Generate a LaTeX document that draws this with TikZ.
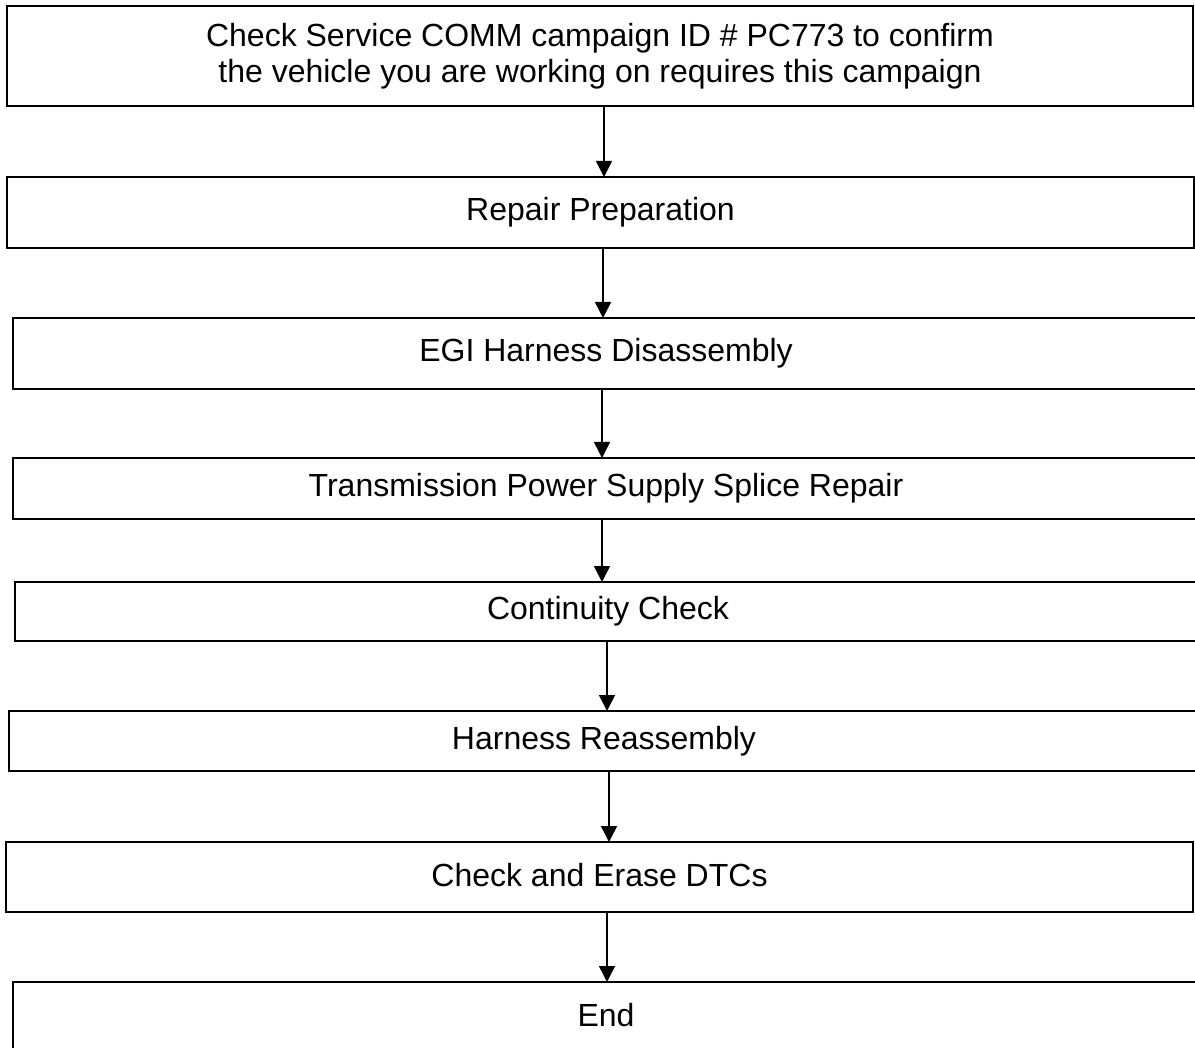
\documentclass[tikz,border=0pt]{standalone}
\usepackage{fontspec}
\setmainfont{Liberation Sans}
\usetikzlibrary{arrows.meta}
\begin{document}
\begin{tikzpicture}[x=1pt,y=-1pt,
  box/.style={draw=black, line width=1.6pt, inner sep=0pt, outer sep=0pt, align=center,
    font=\fontsize{32}{36}\selectfont},
  arr/.style={line width=1.5pt, -{Triangle[length=16pt,width=16pt]}}]
\useasboundingbox (0,0) rectangle (1195,1048);
\clip (0,0) rectangle (1195,1048);
\node[box, minimum width=1186pt, minimum height=100pt] (b1) at (600,56)
  {Check Service COMM campaign ID \# PC773 to confirm\\the vehicle you are working on requires this campaign};
\node[box, minimum width=1187pt, minimum height=71pt] (b2) at (600.5,212.5) {Repair Preparation};
\node[box, minimum width=1186pt, minimum height=71pt] (b3) at (606,353.5) {\raisebox{1pt}{EGI Harness Disassembly}};
\node[box, minimum width=1186pt, minimum height=61pt] (b4) at (606,488.5) {Transmission Power Supply Splice Repair};
\node[box, minimum width=1186pt, minimum height=59pt] (b5) at (608,611.5) {Continuity Check};
\node[box, minimum width=1190pt, minimum height=60pt] (b6) at (604,741) {Harness Reassembly};
\node[box, minimum width=1187pt, minimum height=70pt] (b7) at (599.5,877) {\raisebox{4pt}{Check and Erase DTCs}};
\node[box, minimum width=1186pt, minimum height=70pt] (b8) at (606,1017) {\raisebox{5pt}{End}};
\draw[arr] ([xshift=4pt]b1.south) -- ([xshift=4pt]b1.south |- b2.north);
\draw[arr] ([xshift=2.5pt]b2.south) -- ([xshift=2.5pt]b2.south |- b3.north);
\draw[arr] ([xshift=-4pt]b3.south) -- ([xshift=-4pt]b3.south |- b4.north);
\draw[arr] ([xshift=-4pt]b4.south) -- ([xshift=-4pt]b4.south |- b5.north);
\draw[arr] ([xshift=-1pt]b5.south) -- ([xshift=-1pt]b5.south |- b6.north);
\draw[arr] ([xshift=5pt]b6.south) -- ([xshift=5pt]b6.south |- b7.north);
\draw[arr] ([xshift=7.5pt]b7.south) -- ([xshift=7.5pt]b7.south |- b8.north);
\end{tikzpicture}
\end{document}
